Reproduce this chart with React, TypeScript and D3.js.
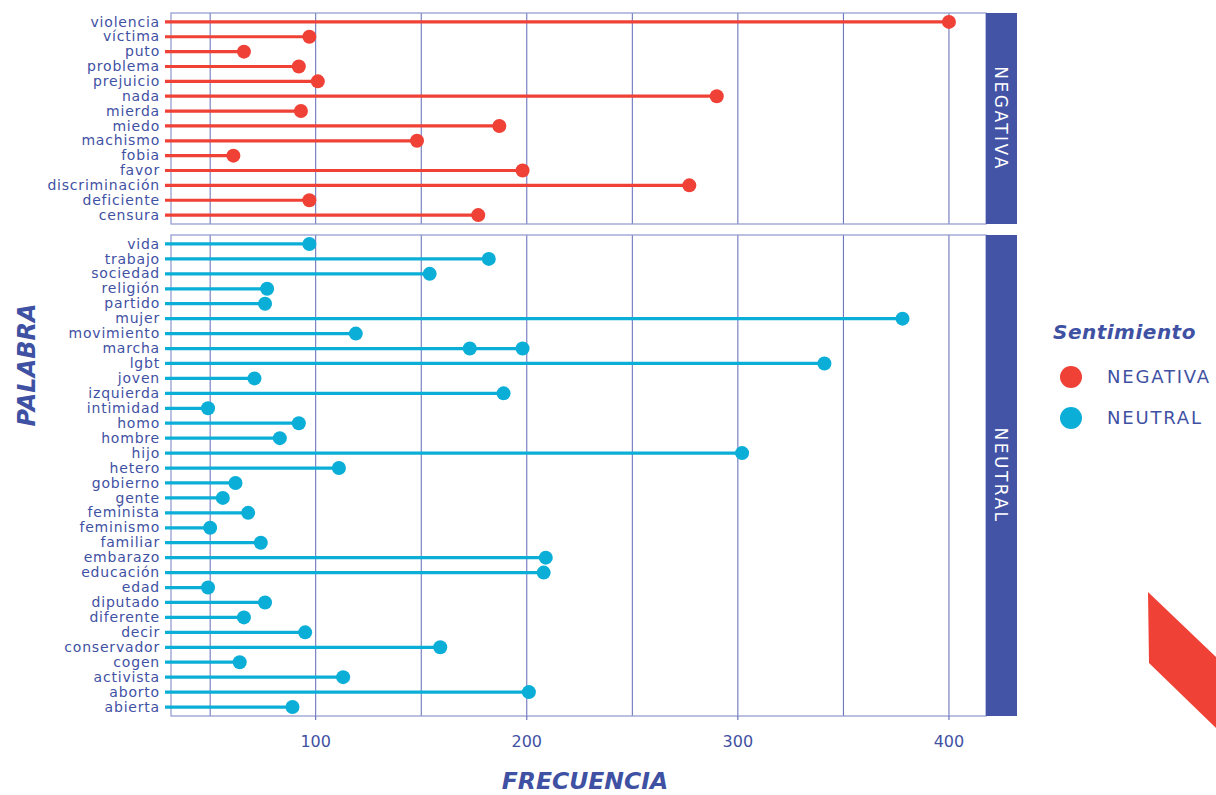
import React from "react";
import * as d3 from "d3";

const negWords = ["violencia","víctima","puto","problema","prejuicio","nada","mierda","miedo","machismo","fobia","favor","discriminación","deficiente","censura"];
const negValues = [400, 97, 66, 92, 101, 290, 93, 187, 148, 61, 198, 277, 97, 177];

const neuWords = ["vida","trabajo","sociedad","religión","partido","mujer","movimiento","marcha","marcha","lgbt","joven","izquierda","intimidad","homo","hombre","hijo","hetero","gobierno","gente","feminista","feminismo","familiar","embarazo","educación","edad","diputado","diferente","decir","conservador","cogen","activista","aborto","abierta"];
const neuValues = [97, 182, 154, 77, 76, 378, 119, 173, 198, 341, 71, 189, 49, 92, 83, 302, 111, 62, 56, 68, 50, 74, 209, 208, 49, 76, 66, 95, 159, 64, 113, 201, 89];

const xTicks = [100, 200, 300, 400];
const xGrid = [50, 100, 150, 200, 250, 300, 350, 400];
const sentiments = ["NEGATIVA", "NEUTRAL"];
const colors = ["#EF4136", "#0AAED7"];

const TXT = "#3F51A3";
const FONT = "'DejaVu Sans', 'Noto Sans', sans-serif";

export default function App() {
  const W = 1216, H = 795;
  const left = 171, right = 986, stripW = 31;
  const minV = d3.min([...negValues, ...neuValues])!;
  const maxV = d3.max([...negValues, ...neuValues])!;
  const pad = (maxV - minV) * 0.05;
  const x = d3.scaleLinear().domain([minV - pad, maxV + pad]).range([left, right]);

  const panels = [
    { name: sentiments[0], words: negWords, values: negValues, color: colors[0], top: 13, bottom: 224 },
    { name: sentiments[1], words: neuWords, values: neuValues, color: colors[1], top: 235, bottom: 716 },
  ];

  return (
    <svg width={W} height={H} style={{ position: "absolute", left: 0, top: 0 }} fontFamily={FONT}>
      <rect width={W} height={H} fill="#fff" />
      {panels.map((p) => {
        const cats = Array.from(new Set(p.words));
        const y = d3.scalePoint<string>().domain(cats).range([p.top, p.bottom]).padding(0.6);
        const maxBy = d3.rollup(p.words.map((w, i) => [w, p.values[i]] as [string, number]), (v) => d3.max(v, (d) => d[1])!, (d) => d[0]);
        return (
          <g key={p.name}>
            {xGrid.map((t) => (
              <line key={t} x1={x(t)} x2={x(t)} y1={p.top} y2={p.bottom} stroke="#4F5BB0" strokeWidth={1} opacity={0.9} />
            ))}
            <rect x={left} y={p.top} width={right - left} height={p.bottom - p.top} fill="none" stroke="#8E97CE" strokeWidth={1.2} />
            {cats.map((c) => (
              <line key={"s" + c} x1={left - 6} x2={x(maxBy.get(c)!)} y1={y(c)!} y2={y(c)!} stroke={p.color} strokeWidth={3.2} />
            ))}
            {p.words.map((w, i) => (
              <circle key={"c" + i} cx={x(p.values[i])} cy={y(w)!} r={7} fill={p.color} />
            ))}
            {cats.map((c) => (
              <text key={"t" + c} x={160} y={y(c)!} dy="0.33em" textAnchor="end" fontSize={14} letterSpacing={0.8} fill={TXT}>{c}</text>
            ))}
            <rect x={right} y={p.top} width={stripW} height={p.bottom - p.top} fill="#4353A5" />
            <text transform={`translate(${right + stripW / 2},${(p.top + p.bottom) / 2}) rotate(90)`} textAnchor="middle" dy="0.36em" fontSize={17} fill="#fff" letterSpacing={2.5}>{p.name}</text>
          </g>
        );
      })}
      {xTicks.map((t) => (
        <g key={t}>
          <line x1={x(t)} x2={x(t)} y1={716} y2={720} stroke="#4F5BB0" />
          <text x={x(t)} y={741} dy="0.35em" textAnchor="middle" fontSize={16} fill={TXT}>{t}</text>
        </g>
      ))}
      <text x={585} y={781} dy="0.36em" textAnchor="middle" fontSize={23.5} fontWeight="bold" fontStyle="italic" fill={TXT}>FRECUENCIA</text>
      <text transform="translate(26,365) rotate(-90)" dy="0.36em" textAnchor="middle" fontSize={24} fontWeight="bold" fontStyle="italic" fill={TXT}>PALABRA</text>
      <text x={1053} y={332} dy="0.36em" fontSize={20} fontWeight="bold" fontStyle="italic" letterSpacing={0.5} fill={TXT}>Sentimiento</text>
      {sentiments.map((s, i) => (
        <g key={s}>
          <circle cx={1071} cy={377 + i * 41} r={11} fill={colors[i]} />
          <text x={1107} y={377 + i * 41} dy="0.36em" fontSize={18} letterSpacing={1.8} fill={TXT}>{s}</text>
        </g>
      ))}
      <polygon points={`1148,592 1216,657 1216,728 1149,663`} fill="#EF4136" />
    </svg>
  );
}
